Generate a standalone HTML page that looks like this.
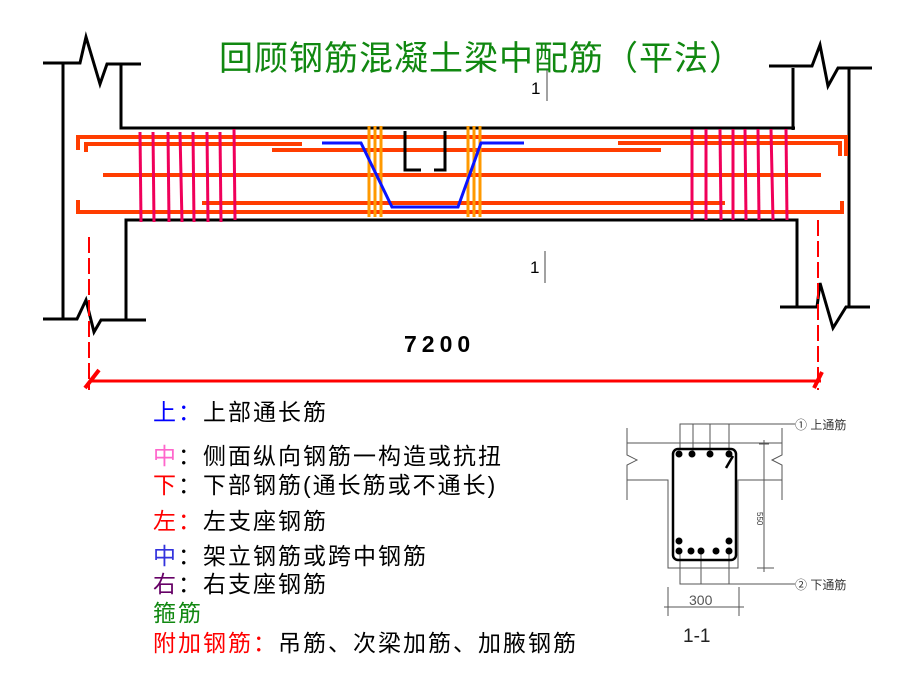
<!DOCTYPE html>
<html><head><meta charset="utf-8"><style>
html,body{margin:0;padding:0;background:#fff;width:920px;height:690px;overflow:hidden}
svg{display:block}
text{font-family:"Liberation Sans","Noto Sans CJK SC",sans-serif}
</style></head><body>
<svg width="920" height="690" viewBox="0 0 920 690" xmlns="http://www.w3.org/2000/svg">
<text x="219" y="70" font-size="34" fill="#118811" letter-spacing="1" font-family="'Liberation Serif','Noto Serif CJK SC',serif">回顾钢筋混凝土梁中配筋（平法）</text>
<g stroke="#000" stroke-width="3" fill="none">
<polyline points="43,63 80,63 86,37 100,84 107,64 141,64"/>
<line x1="63" y1="63" x2="63" y2="319"/>
<polyline points="121,64 121,128 795,128"/>
<polyline points="43,319 77,319 86,300 94,332 101,320 146,320"/>
<polyline points="126,319 126,220 797,220 797,307"/>
<polyline points="769,66 812,66 820,45 828,86 838,68 872,68"/>
<line x1="793" y1="68" x2="793" y2="130"/>
<line x1="849" y1="68" x2="849" y2="307"/>
<polyline points="780,307 817,307 820,283 833,328 846,307 870,307"/>
</g>
<g stroke="#ff3d00" stroke-width="4" fill="none">
<polyline points="78,150 78,137 846,137 846,156"/>
<polyline points="86,152 86,144 302,144"/>
<polyline points="618,143 840,143 840,156"/>
<line x1="272" y1="150" x2="661" y2="150"/>
<line x1="103" y1="175" x2="821" y2="175"/>
<line x1="202" y1="203" x2="725" y2="203"/>
<polyline points="78,200 78,212 842,212 842,201"/>
</g>
<g stroke="#f0005a" stroke-width="3">
<line x1="140" y1="132" x2="141" y2="222"/><line x1="153" y1="132" x2="154" y2="222"/>
<line x1="168" y1="132" x2="169" y2="222"/><line x1="180" y1="132" x2="182" y2="222"/>
<line x1="193" y1="132" x2="194" y2="222"/><line x1="207" y1="132" x2="208" y2="222"/>
<line x1="220" y1="132" x2="221" y2="222"/><line x1="234" y1="129" x2="235" y2="220"/>
<line x1="692" y1="129" x2="692" y2="220"/><line x1="706" y1="129" x2="706" y2="220"/>
<line x1="720" y1="129" x2="721" y2="220"/><line x1="733" y1="129" x2="733" y2="220"/>
<line x1="745" y1="129" x2="746" y2="220"/><line x1="758" y1="129" x2="759" y2="220"/>
<line x1="771" y1="129" x2="773" y2="220"/><line x1="786" y1="129" x2="787" y2="220"/>
</g>
<g stroke="#ff9900" stroke-width="3">
<line x1="369" y1="126" x2="369" y2="217"/><line x1="375" y1="126" x2="375" y2="217"/><line x1="381" y1="126" x2="381" y2="217"/>
<line x1="468" y1="126" x2="468" y2="217"/><line x1="474" y1="126" x2="474" y2="217"/><line x1="480" y1="126" x2="480" y2="217"/>
</g>
<polyline points="322,143 361,143 392,207 458,207 481,143 524,143" stroke="#0a14ff" stroke-width="3" fill="none"/>
<g stroke="#000" stroke-width="3" fill="none">
<polyline points="405,131 405,170 421,170"/><polyline points="434,170 445,170 445,131"/>
</g>
<text x="531" y="94" font-size="17" fill="#000">1</text>
<line x1="547" y1="70" x2="547" y2="101" stroke="#444" stroke-width="1"/>
<text x="530" y="273" font-size="17" fill="#000">1</text>
<line x1="545" y1="251" x2="545" y2="283" stroke="#444" stroke-width="1"/>
<text x="404" y="352" font-size="23" font-weight="bold" fill="#000" letter-spacing="5">7200</text>
<g stroke="#ff0000" stroke-width="2" fill="none">
<line x1="89" y1="237" x2="89" y2="390" stroke-dasharray="16,5"/>
<line x1="818" y1="220" x2="818" y2="390" stroke-dasharray="16,5"/>
<line x1="89" y1="381" x2="821" y2="381" stroke-width="3"/>
<line x1="85" y1="388" x2="99" y2="370" stroke-width="4"/>
<line x1="814" y1="388" x2="822" y2="372" stroke-width="4"/>
</g>
<g font-size="23" letter-spacing="2">
<text x="153" y="420"><tspan fill="#0000ff">上：</tspan><tspan fill="#000">上部通长筋</tspan></text>
<text x="153" y="464"><tspan fill="#ff66cc">中</tspan><tspan fill="#000">：侧面纵向钢筋一构造或抗扭</tspan></text>
<text x="153" y="493"><tspan fill="#ff0000">下</tspan><tspan fill="#000">：下部钢筋(通长筋或不通长)</tspan></text>
<text x="153" y="529"><tspan fill="#ff0000">左：</tspan><tspan fill="#000">左支座钢筋</tspan></text>
<text x="153" y="564"><tspan fill="#3333dd">中</tspan><tspan fill="#000">：架立钢筋或跨中钢筋</tspan></text>
<text x="153" y="592"><tspan fill="#660066">右</tspan><tspan fill="#000">：右支座钢筋</tspan></text>
<text x="153" y="621" fill="#118811">箍筋</text>
<text x="153" y="651"><tspan fill="#ff0000">附加钢筋：</tspan><tspan fill="#000">吊筋、次梁加筋、加腋钢筋</tspan></text>
</g>
<g stroke="#555" stroke-width="1" fill="none">
<polyline points="627,428 627,443 782,443 782,428"/>
<polyline points="627,443 627,455 637,460 627,465 627,480 668,480 668,568 738,568 738,480 782,480 782,465 772,460 782,455 782,443"/>
<line x1="627" y1="480" x2="627" y2="500"/><line x1="782" y1="480" x2="782" y2="500"/>
<polyline points="680,448 680,424 795,424"/>
<line x1="693" y1="424" x2="693" y2="453"/><line x1="710" y1="424" x2="710" y2="453"/><line x1="729" y1="424" x2="729" y2="453"/>
<polyline points="680,550 680,584 795,584"/>
<line x1="701" y1="550" x2="701" y2="584"/><line x1="729" y1="550" x2="729" y2="584"/>
<line x1="764" y1="440" x2="764" y2="572"/><line x1="757" y1="568" x2="774" y2="568"/><line x1="759" y1="444" x2="769" y2="444"/>
<line x1="668" y1="587" x2="668" y2="616"/><line x1="739" y1="587" x2="739" y2="616"/>
<line x1="664" y1="607" x2="744" y2="607"/>
</g>
<rect x="673" y="449" width="63" height="111" rx="5" stroke="#000" stroke-width="2.5" fill="none"/>
<line x1="733" y1="456" x2="726" y2="468" stroke="#000" stroke-width="2.5"/>
<g fill="#000">
<circle cx="679" cy="454" r="3.5"/><circle cx="692" cy="454" r="3.5"/><circle cx="710" cy="454" r="3.5"/><circle cx="729" cy="454" r="3.5"/>
<circle cx="679" cy="541" r="3.5"/><circle cx="729" cy="541" r="3.5"/>
<circle cx="679" cy="551" r="3.5"/><circle cx="691" cy="551" r="3.5"/><circle cx="701" cy="551" r="3.5"/><circle cx="716" cy="551" r="3.5"/><circle cx="729" cy="551" r="3.5"/>
</g>
<text x="795" y="429" font-size="12" fill="#333">① 上通筋</text>
<text x="795" y="589" font-size="12" fill="#333">② 下通筋</text>
<text x="757" y="512" font-size="8" fill="#333" transform="rotate(90 757 512)">550</text>
<text x="689" y="605" font-size="14" fill="#555">300</text>
<text x="683" y="642" font-size="19" fill="#222" font-family="'Liberation Serif',serif">1-1</text>
</svg>
</body></html>
